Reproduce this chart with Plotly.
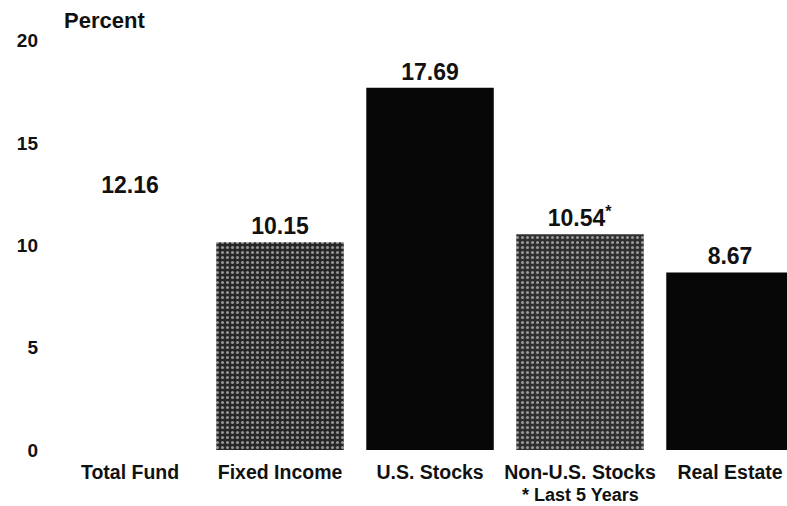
import plotly.graph_objects as go

categories = ["Total Fund", "Fixed Income", "U.S. Stocks", "Non-U.S. Stocks", "Real Estate"]
tick_labels = ["Total Fund", "Fixed Income", "U.S. Stocks", "Non-U.S. Stocks", "Real Estate"]
footnote = "* Last 5 Years"
footnote_category = "Non-U.S. Stocks"
values = [12.16, 10.15, 17.69, 10.54, 8.67]
value_labels = ["12.16", "10.15", "17.69", "10.54<sup>*</sup>", "8.67"]
y_ticks = [0, 5, 10, 15, 20]

bar_colors = ["#ffffff", "#262626", "#070707", "#2e2e2e", "#070707"]
pattern_shapes = ["", ".", "", ".", ""]

FONT = "Liberation Sans, Arial, Helvetica, sans-serif"

fig = go.Figure()
fig.add_trace(go.Bar(
    x=categories,
    y=values,
    text=value_labels,
    textposition="outside",
    cliponaxis=False,
    textfont=dict(family=FONT, size=23, color="#111111", weight="bold"),
    marker=dict(
        color=bar_colors,
        line=dict(width=0),
        pattern=dict(shape=pattern_shapes, fgcolor="#a0a0a0", fillmode="overlay",
                     size=5, solidity=0.3),
    ),
    width=0.85,
    showlegend=False,
))

fig.add_annotation(
    text="Percent", xref="paper", yref="paper",
    x=17 / 742, y=1.0, xanchor="left", yanchor="middle",
    showarrow=False,
    font=dict(family=FONT, size=22, color="#111111", weight="bold"),
)

fig.add_annotation(
    text=footnote, xref="x", yref="paper",
    x=footnote_category, y=-45 / 430, xanchor="center", yanchor="middle",
    showarrow=False, borderpad=0,
    font=dict(family=FONT, size=18, color="#111111", weight="bold"),
)

fig.update_layout(
    width=787, height=506,
    margin=dict(l=45, r=0, t=20, b=56, autoexpand=False),
    paper_bgcolor="white", plot_bgcolor="white",
    bargap=0.15,
    xaxis=dict(
        type="category",
        automargin=False,
        range=[-0.567, 4.38],
        tickvals=categories, ticktext=tick_labels,
        showgrid=False, showline=False, zeroline=False, ticks="",
        ticklabelstandoff=8,
        tickfont=dict(family=FONT, size=19.5, color="#111111", weight="bold"),
    ),
    yaxis=dict(
        range=[0, 21],
        automargin=False,
        tickvals=y_ticks,
        ticktext=[str(t) for t in y_ticks],
        showgrid=False, showline=False, zeroline=False, ticks="",
        ticklabelstandoff=6,
        tickfont=dict(family=FONT, size=19, color="#111111", weight="bold"),
    ),
)

fig.write_html("out.html", config={"displayModeBar": False},
               post_script="document.body.style.margin='0px';")
